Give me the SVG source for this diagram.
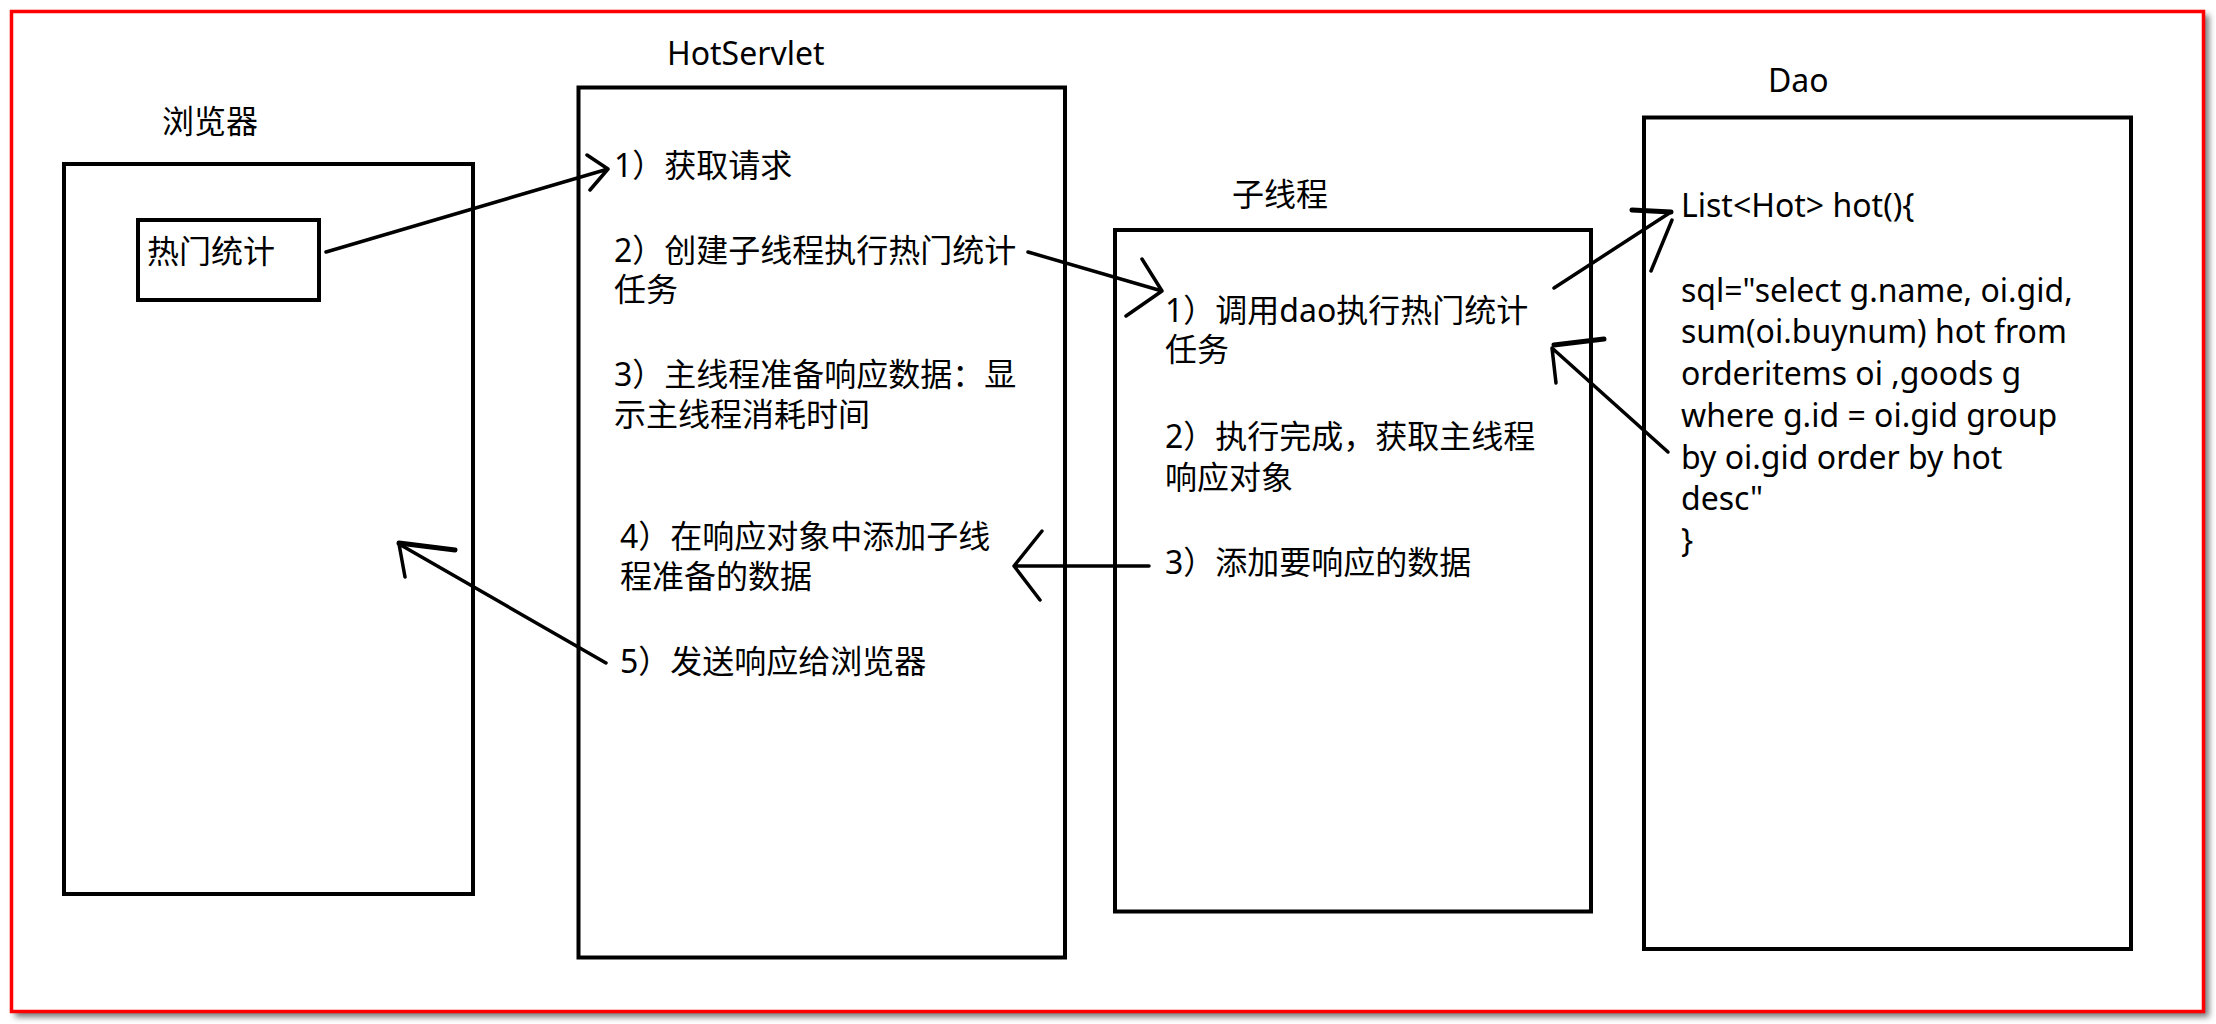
<svg xmlns="http://www.w3.org/2000/svg" width="2216" height="1024" viewBox="0 0 2216 1024">
<defs>
<filter id="shadow" x="-5%" y="-5%" width="110%" height="110%">
<feGaussianBlur stdDeviation="3"/>
</filter>
</defs>
<style>
.box{fill:none;stroke:#000;stroke-width:4}
.t{font-family:"Noto Sans","Noto Sans CJK SC",sans-serif;font-size:32px;fill:#000}
.ln{fill:none;stroke:#000;stroke-width:3.5;stroke-linecap:round;stroke-linejoin:round}
.thick{stroke-width:5}
</style>
<rect x="0" y="0" width="2216" height="1024" fill="#fff"/>
<rect x="15" y="15" width="2194" height="1002" fill="#777" filter="url(#shadow)"/>
<rect id="frame" x="11.5" y="11.5" width="2192" height="1000" fill="#fff" stroke="#f00" stroke-width="3.5"/>

<g id="browser">
<text class="t" x="162" y="133">浏览器</text>
<rect class="box" x="64" y="164" width="409" height="730"/>
</g>
<g id="hotstat">
<rect class="box" x="138" y="220" width="181" height="80"/>
<text class="t" x="147" y="263">热门统计</text>
</g>
<g id="hotservlet">
<text class="t" x="667" y="65">HotServlet</text>
<rect class="box" x="578.5" y="87.5" width="486.5" height="870"/>
<text class="t" x="614" y="177">1）获取请求</text>
<text class="t" x="614" y="262">2）创建子线程执行热门统计</text>
<text class="t" x="614" y="301">任务</text>
<text class="t" x="614" y="386">3）主线程准备响应数据：显</text>
<text class="t" x="614" y="426">示主线程消耗时间</text>
<text class="t" x="620" y="548">4）在响应对象中添加子线</text>
<text class="t" x="620" y="588">程准备的数据</text>
<text class="t" x="620" y="673">5）发送响应给浏览器</text>
</g>
<g id="subthread">
<text class="t" x="1232" y="206">子线程</text>
<rect class="box" x="1115" y="230" width="476" height="681.5"/>
<text class="t" x="1165" y="322">1）调用dao执行热门统计</text>
<text class="t" x="1165" y="361">任务</text>
<text class="t" x="1165" y="448">2）执行完成，获取主线程</text>
<text class="t" x="1165" y="489">响应对象</text>
<text class="t" x="1165" y="574">3）添加要响应的数据</text>
</g>
<g id="dao">
<text class="t" x="1768" y="92">Dao</text>
<rect class="box" x="1644" y="117.5" width="487" height="831.5"/>
<text class="t" x="1681" y="217">List&lt;Hot&gt; hot(){</text>
<text class="t" x="1681" y="302">sql="select g.name, oi.gid,</text>
<text class="t" x="1681" y="343">sum(oi.buynum) hot from</text>
<text class="t" x="1681" y="385">orderitems oi ,goods g</text>
<text class="t" x="1681" y="427">where g.id = oi.gid group</text>
<text class="t" x="1681" y="469">by oi.gid order by hot</text>
<text class="t" x="1681" y="510">desc"</text>
<text class="t" x="1681" y="552">}</text>
</g>

<g id="connectors">
<path class="ln" d="M326,252 L608,169 M587,155 L608,169 L590,190"/>
<path class="ln" d="M1028,252 L1162,291 M1142,259 L1162,291 L1126,316"/>
<path class="ln" d="M1554,288 L1671,212 M1672,220 L1651,271"/>
<path class="ln thick" d="M1632,210 L1671,212"/>
<path class="ln" d="M1668,452 L1552,348 L1556,383"/>
<path class="ln thick" d="M1554,345 L1604,339"/>
<path class="ln" d="M1149,566 L1014,566 M1042,531 L1014,566 L1040,600"/>
<path class="ln" d="M606,663 L399,544 L405,577"/>
<path class="ln thick" d="M399,543 L455,550"/>
</g>
</svg>
